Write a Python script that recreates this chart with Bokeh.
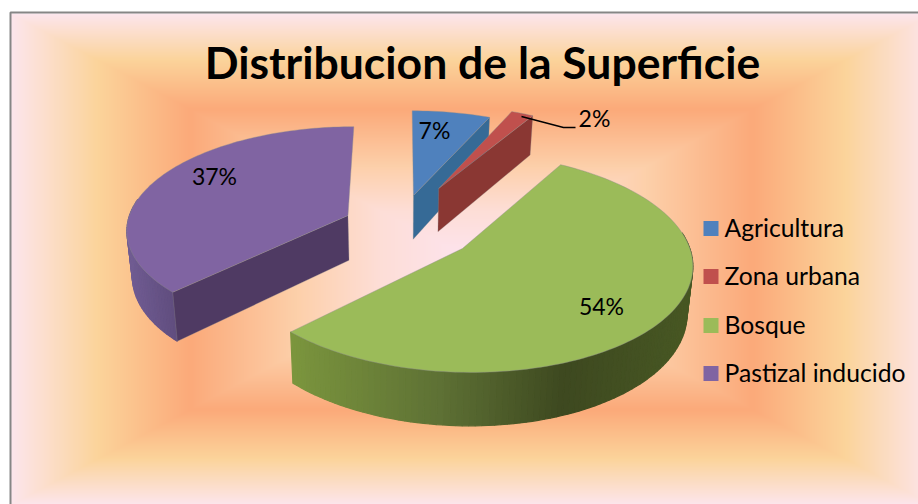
import numpy as np
from bokeh.plotting import figure
from bokeh.embed import file_html
from bokeh.resources import INLINE
from bokeh.core.properties import value

title_text = "Distribucion de la Superficie"
categories = ["Agricultura", "Zona urbana", "Bosque", "Pastizal inducido"]
values = [6.6, 1.9, 54.1, 37.4]
top_colors = ["#4f81bd", "#c0504d", "#9bbb59", "#8064a2"]
cut_colors = ["#366a96", "#8a3733", "#5e7135", "#4f3a63"]
visible_cut = [-1, -1, None, 0]
explode_u = [0.056, 0.176, 0.268, -0.245]
explode_v = [-0.333, -0.408, 0.1895, -0.128]
label_pos = [(434, 129), (594, 117), (601, 305), (214, 175)]

W, H = 918, 504
SH = 504
FONT = "Lato"
def sy(y):
    return SH - np.asarray(y, dtype=float)

p = figure(width=W, height=H, x_range=(0, W), y_range=(0, H), output_backend="svg",
           toolbar_location=None, min_border=0, outline_line_color=None)
p.axis.visible = False
p.grid.visible = False

# rectangular-path gradient background
fx0, fx1, fy0, fy1 = 10.0, 932.0, 13.0, 505.0
stops_t = [0.0, 0.19, 0.39, 0.62, 0.8, 1.0]
stops_c = np.array([[253, 230, 238], [251, 212, 155], [251, 170, 122],
                    [253, 208, 170], [253, 222, 215], [253, 228, 240]], float)
xs = np.arange(10, 918) + 0.5
ys = np.arange(13, 504) + 0.5
gx, gy = np.meshgrid(xs, ys)
t = 1 - np.maximum(np.abs(gx - (fx0 + fx1) / 2) / ((fx1 - fx0) / 2), np.abs(gy - (fy0 + fy1) / 2) / ((fy1 - fy0) / 2))
t = np.clip(t, 0, 1)
rgba = np.zeros(t.shape, dtype=np.uint32)
view = rgba.view(np.uint8).reshape(t.shape + (4,))
for i in range(3):
    view[..., i] = np.interp(t, stops_t, stops_c[:, i]).astype(np.uint8)
view[..., 3] = 255
p.image_rgba(image=[rgba[::-1]], x=10, y=float(sy(504)), dw=908, dh=491)
p.line(x=[918, 10, 10], y=list(sy([12, 12, 504])), line_color="#868686", line_width=2)

# pseudo-3D projection
CX, CY, A, B, K, DEPTH, SHRINK = 401.0, 228.0, 222.0, 103.0, 0.125, 45.5, 0.98
def project(u, v, low=False):
    s = 1 / (1 - K * v)
    x = CX + A * u * s
    y = CY + B * v * s
    if low:
        x = CX + (x - CX) * SHRINK
        y = y + DEPTH * s
    return x, y

def green_wall(x):
    stops = [289, 440, 563, 690]
    cols = np.array([[124, 150, 62], [94, 113, 53], [62, 73, 32], [72, 88, 36]], float)
    c = [int(np.interp(x, stops, cols[:, i])) for i in range(3)]
    return "#%02x%02x%02x" % tuple(c)

def purple_wall(x):
    c = [int(np.interp(x, [128, 177], [a, b])) for a, b in zip((112, 92, 146), (95, 76, 125))]
    return "#%02x%02x%02x" % tuple(c)

wall_fn = {2: green_wall, 3: purple_wall}
fracs = np.array(values) / sum(values)
edges = np.concatenate([[0], np.cumsum(fracs)]) * 2 * np.pi
EDGE = "#8c8c8c"

for i in [3, 0, 1, 2]:
    th = np.linspace(edges[i], edges[i + 1], max(12, int((edges[i + 1] - edges[i]) * 40)))
    u = explode_u[i] + np.sin(th)
    v = explode_v[i] - np.cos(th)
    tx, ty = project(u, v)
    bx, by = project(u, v, low=True)
    ax, ay = project(explode_u[i], explode_v[i])
    abx, aby = project(explode_u[i], explode_v[i], low=True)
    # outer wall, strip by strip, only where it faces the viewer
    for j in range(len(th) - 1):
        if np.cos(th[j]) > 0.15:
            continue
        col = wall_fn[i]((tx[j] + tx[j + 1]) / 2) if i in wall_fn else cut_colors[i]
        p.patch(x=[tx[j], tx[j + 1], bx[j + 1], bx[j]], y=list(sy([ty[j], ty[j + 1], by[j + 1], by[j]])),
                fill_color=col, line_color=col, line_width=1.2)
    # the one cut face that can be seen
    k = visible_cut[i]
    if k is not None:
        p.patch(x=[ax, tx[k], bx[k], abx], y=list(sy([ay, ty[k], by[k], aby])),
                fill_color=cut_colors[i], line_color=EDGE, line_width=0.6, line_alpha=0.5)
    # top surface
    p.patch(x=np.r_[ax, tx], y=sy(np.r_[ay, ty]), fill_color=top_colors[i], line_color=EDGE,
            line_width=0.8, line_alpha=0.5)

# data labels
p.line(x=[521, 563, 575], y=list(sy([116, 127, 127])), line_color="black", line_width=1.3)
for v_, (lx, ly) in zip(values, label_pos):
    p.text(x=[lx], y=[float(sy(ly))], text=[f"{round(v_)}%"], text_font=value(FONT), text_font_size="23px",
           text_align="center", text_baseline="middle", text_color="black")

# title
p.text(x=[482], y=[float(sy(61))], text=[title_text], text_font=value(FONT), text_font_style="bold",
       text_font_size="44.5px", text_align="center", text_baseline="middle", text_color="black")

# legend
legend_y = [228, 276, 325, 373]
for name, col, ly in zip(categories, top_colors, legend_y):
    p.rect(x=[710.5], y=[float(sy(ly))], width=15, height=15, fill_color=col, line_color=None)
    p.text(x=[724], y=[float(sy(ly - 1))], text=[name], text_font=value(FONT), text_font_size="24.7px",
           text_align="left", text_baseline="middle", text_color="black")

open("out.html", "w").write(file_html(p, INLINE))
